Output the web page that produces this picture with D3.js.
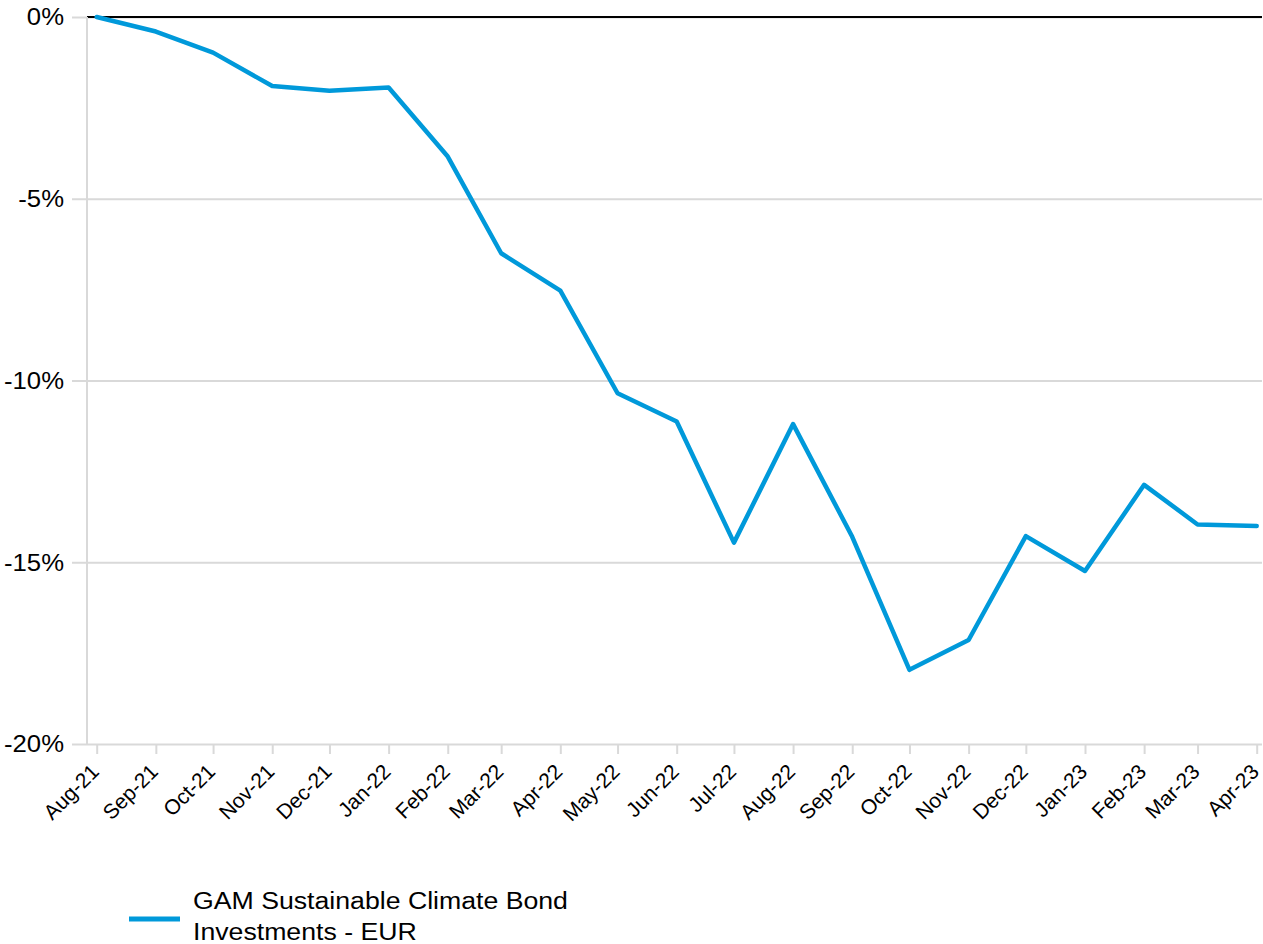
<!DOCTYPE html>
<html>
<head>
<meta charset="utf-8">
<script src="https://cdn.jsdelivr.net/npm/d3@7"></script>
<style>
  body { margin: 0; background: #fff; }
  text { font-family: Arial, "Liberation Sans", sans-serif; fill: #000; }
</style>
</head>
<body>
<div id="wrapper"></div>
<script>
// monthly cumulative performance, %
const months = ["2021-08-01","2021-09-01","2021-10-01","2021-11-01","2021-12-01","2022-01-01",
  "2022-02-01","2022-03-01","2022-04-01","2022-05-01","2022-06-01","2022-07-01","2022-08-01",
  "2022-09-01","2022-10-01","2022-11-01","2022-12-01","2023-01-01","2023-02-01","2023-03-01","2023-04-01"]
const performance = [0, -0.40, -0.98, -1.90, -2.03, -1.94, -3.84, -6.50, -7.53, -10.35, -11.13,
  -14.46, -11.20, -14.30, -17.96, -17.14, -14.28, -15.24, -12.87, -13.96, -14.00]
const yTicks = [0, -5, -10, -15, -20]
const seriesName = ["GAM Sustainable Climate Bond", "Investments - EUR"]

const parseDate = d3.timeParse("%Y-%m-%d")
const data = months.map((m, i) => ({ date: parseDate(m), value: performance[i] }))
const xAccessor = d => d.date
const yAccessor = d => d.value

const width = 1263
const height = 944
const gridLeft = 72
const axisX = 87
const plotRight = 1262

const svg = d3.select("#wrapper")
  .append("svg")
    .attr("width", width)
    .attr("height", height)

const xScale = d3.scaleTime()
  .domain(d3.extent(data, xAccessor))
  .range([96.7, 1256.7])

const yScale = d3.scaleLinear()
  .domain([-20, 0])
  .range([744, 17])

// gridlines + y labels
const yAxis = svg.append("g")
    .attr("transform", `translate(${gridLeft},0)`)
    .call(d3.axisLeft(yScale)
      .tickValues(yTicks)
      .tickSize(-(plotRight - gridLeft))
      .tickPadding(0)
      .tickFormat(d => d + "%"))
yAxis.select(".domain").remove()
yAxis.selectAll(".tick line")
    .attr("stroke", "#d9d9d9")
    .attr("stroke-width", 2)
yAxis.selectAll(".tick text")
    .attr("x", 0)
    .attr("transform", "translate(-8,0) scale(1.05,1)")
    .style("font-size", "24.5px")
    .style("font-family", "Arial, 'Liberation Sans', sans-serif")
    .attr("fill", "#000")

// zero line
svg.append("line")
    .attr("x1", axisX)
    .attr("x2", plotRight)
    .attr("y1", yScale(0))
    .attr("y2", yScale(0))
    .attr("stroke", "#000")
    .attr("stroke-width", 2)

// vertical axis line
svg.append("line")
    .attr("x1", axisX)
    .attr("x2", axisX)
    .attr("y1", yScale(0))
    .attr("y2", yScale(-20))
    .attr("stroke", "#d9d9d9")
    .attr("stroke-width", 2)

// x axis
const xAxis = svg.append("g")
    .attr("transform", `translate(0,${yScale(-20)})`)
    .call(d3.axisBottom(xScale)
      .tickValues(data.map(xAccessor))
      .tickSize(10)
      .tickSizeOuter(0)
      .tickFormat(d3.timeFormat("%b-%y")))
xAxis.select(".domain").remove()
xAxis.selectAll(".tick line")
    .attr("stroke", "#d9d9d9")
    .attr("stroke-width", 2)
xAxis.selectAll(".tick text")
    .style("font-size", "21px")
    .style("font-family", "Arial, 'Liberation Sans', sans-serif")
    .attr("fill", "#000")
    .attr("text-anchor", "end")
    .attr("y", 0)
    .attr("dy", 0)
    .attr("transform", "translate(3,29) rotate(-45)")

// line
const lineGenerator = d3.line()
    .x(d => xScale(xAccessor(d)))
    .y(d => yScale(yAccessor(d)))
svg.append("path")
    .attr("d", lineGenerator(data))
    .attr("fill", "none")
    .attr("stroke", "#0099da")
    .attr("stroke-width", 4.5)
    .attr("stroke-linejoin", "round")
    .attr("stroke-linecap", "round")

// legend
const legend = svg.append("g")
legend.append("line")
    .attr("x1", 129)
    .attr("x2", 180)
    .attr("y1", 919)
    .attr("y2", 919)
    .attr("stroke", "#0099da")
    .attr("stroke-width", 5)
legend.selectAll("text")
  .data(seriesName)
  .join("text")
    .attr("transform", (d, i) => `translate(193,${909 + i * 31}) scale(1.16,1)`)
    .style("font-size", "23px")
    .text(d => d)
</script>
</body>
</html>
